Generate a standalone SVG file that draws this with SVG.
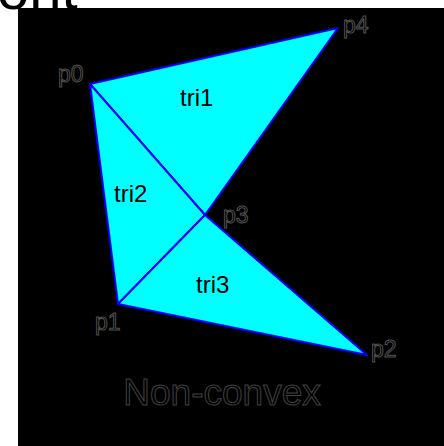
<svg xmlns="http://www.w3.org/2000/svg" width="444" height="446" viewBox="0 0 444 446">
<style>
.tri{fill:#00ffff;stroke:#0000ff;stroke-width:2;stroke-linejoin:round}
.tl{font-family:"Liberation Sans",Arial,sans-serif;font-size:24px;fill:#000}
.pl{font-family:"Liberation Sans",Arial,sans-serif;font-size:23px;fill:none;stroke:#505050;stroke-width:1}
</style>
<rect width="444" height="446" fill="#fff"/>
<text x="-3" y="9" font-family="Liberation Sans,Arial,sans-serif" font-size="58" fill="#000">ont</text>
<rect x="18" y="8" width="426" height="438" fill="#000"/>
<g id="tri1"><polygon class="tri" points="90,84 338,28 205,215"/><text class="tl" x="180" y="106">tri1</text></g>
<g id="tri2"><polygon class="tri" points="90,84 205,215 118,304"/><text class="tl" x="114" y="202">tri2</text></g>
<g id="tri3"><polygon class="tri" points="118,304 205,215 367,355"/><text class="tl" x="196" y="293">tri3</text></g>
<g id="labels">
<text class="pl" x="58" y="82">p0</text>
<text class="pl" x="343" y="33">p4</text>
<text class="pl" x="223" y="223">p3</text>
<text class="pl" x="95" y="330">p1</text>
<text class="pl" x="371" y="357">p2</text>
<text x="222" y="405" text-anchor="middle" font-family="Liberation Sans,Arial,sans-serif" font-size="37" fill="none" stroke="#404040" stroke-width="1">Non-convex</text>
</g>
</svg>
